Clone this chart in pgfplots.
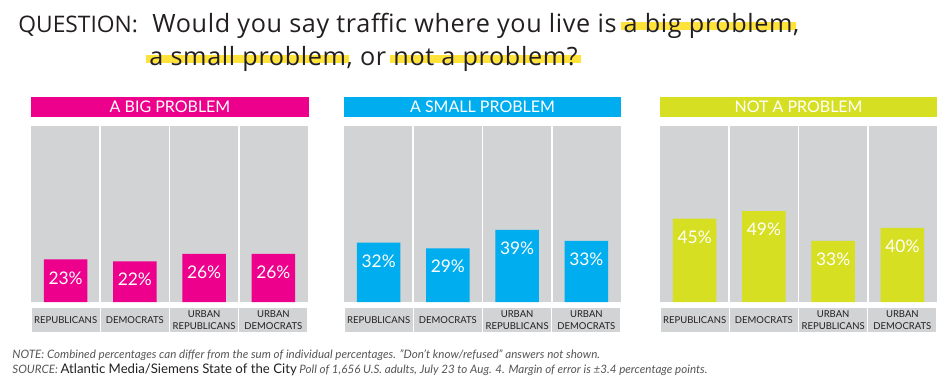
\documentclass[border=0pt]{standalone}
\usepackage{pgfplots}
\pgfplotsset{compat=1.18}
\usepackage{fontspec}
\setmainfont{Lato}
\newfontfamily\titlefont[LetterSpace=2.5]{Open Sans}
\newfontfamily\qfont{Open Sans}
\definecolor{pinkc}{HTML}{EC008C}
\definecolor{bluec}{HTML}{00AEEF}
\definecolor{greenc}{HTML}{D7DF23}
\definecolor{bgc}{HTML}{D1D3D4}
\definecolor{hly}{HTML}{FFE33B}
\definecolor{txt}{HTML}{231F20}
\definecolor{notec}{HTML}{555555}
\newsavebox\hlbox
\newcommand\hl[1]{\sbox\hlbox{#1}\rlap{\hspace{-1.5pt}\textcolor{hly}{\rule[0.07em]{\dimexpr\wd\hlbox+3pt\relax}{0.32em}}}#1}
\pgfplotsset{panel/.style={
  at={(#1,40pt)}, anchor=south west, scale only axis, width=138.5pt, height=88pt,
  ybar, bar width=21.8pt, ymin=0, ymax=95, xmin=-0.5, xmax=3.5,
  axis background/.style={fill=bgc},
  axis line style={draw=none}, ytick=\empty, xtick={0,1,2,3},
  xticklabels={REPUBLICANS, DEMOCRATS, {URBAN\\REPUBLICANS}, {URBAN\\DEMOCRATS}},
  major tick length=0pt, minor tick length=0pt,
  minor x tick num=1, xminorgrids, minor grid style={white, line width=0.8pt},
  xticklabel style={anchor=north, yshift=-2.85pt, fill=bgc, minimum width=33.9pt, minimum height=12pt, inner sep=0pt, align=center, font=\fontsize{4.75pt}{5.6pt}\selectfont, text=txt},
  /pgf/number format/assume math mode=true,
  nodes near coords={\pgfmathprintnumber{\pgfplotspointmeta}\%},
  nodes near coords style={anchor=north, text=white, font=\fontsize{8.7pt}{10pt}\selectfont, yshift=-2.5pt},
  clip=false,
}}
\begin{document}
\begin{tikzpicture}[x=0.5pt,y=0.5pt]
\useasboundingbox (0,0) rectangle (940,382);
% title
\node[anchor=base west, inner sep=0pt, text=txt, font=\qfont\fontsize{11.4pt}{14pt}\selectfont] at (18,350) {QUESTION:};
\node[anchor=base west, inner sep=0pt, text=txt, font=\titlefont\fontsize{12.6pt}{14pt}\selectfont] at (152,350) {Would you say traffic where you live is \hl{a big problem},};
\node[anchor=base west, inner sep=0pt, text=txt, font=\titlefont\fontsize{12.6pt}{14pt}\selectfont] at (149,317) {\hl{a small problem}, or \hl{not a problem?}};
% headers
\fill[pinkc] (31,265) rectangle (309,285.3);
\node[text=white, font=\fontsize{8pt}{9pt}\selectfont, inner sep=0pt] at (170,275.2) {A BIG PROBLEM};
\fill[bluec] (344,265) rectangle (621,285.3);
\node[text=white, font=\fontsize{8pt}{9pt}\selectfont, inner sep=0pt] at (482.5,275.2) {A SMALL PROBLEM};
\fill[greenc] (660,265) rectangle (937,285.3);
\node[text=white, font=\fontsize{8pt}{9pt}\selectfont, inner sep=0pt] at (798.5,275.2) {NOT A PROBLEM};
% panels
\begin{axis}[panel=15.5pt]
\addplot[fill=pinkc, draw=none] coordinates {(0,23) (1,22) (2,26) (3,26)};
\end{axis}
\begin{axis}[panel=172pt]
\addplot[fill=bluec, draw=none] coordinates {(0,32) (1,29) (2,39) (3,33)};
\end{axis}
\begin{axis}[panel=330pt]
\addplot[fill=greenc, draw=none] coordinates {(0,45) (1,49) (2,33) (3,40)};
\end{axis}
% notes
\node[anchor=base west, inner sep=0pt, text=notec, font=\fontsize{5.8pt}{7pt}\selectfont\itshape] at (12,24) {NOTE: Combined percentages can differ from the sum of individual percentages. "Don't know/refused" answers not shown.};
\node[anchor=base west, inner sep=0pt, text=notec, font=\fontsize{5.8pt}{7pt}\selectfont\itshape] at (12,9) {SOURCE: {\upshape\color{txt}\fontsize{6.6pt}{7pt}\selectfont Atlantic Media/Siemens State of the City} Poll of 1,656 U.S. adults, July 23 to Aug. 4. Margin of error is ±3.4 percentage points.};
\end{tikzpicture}
\end{document}
